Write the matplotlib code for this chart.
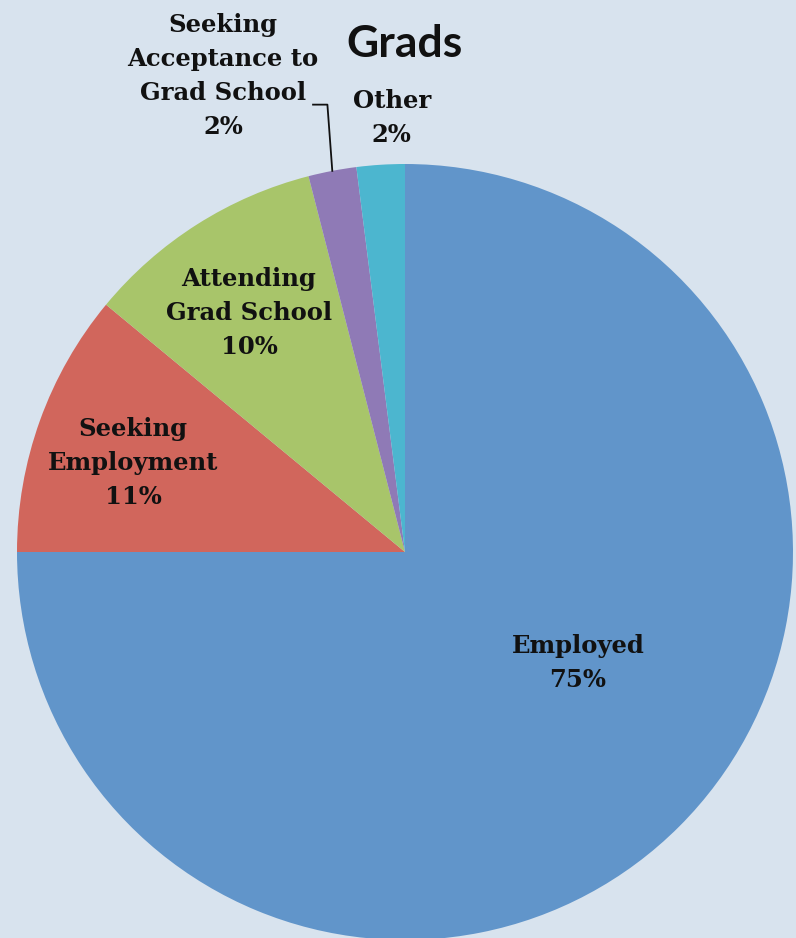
import numpy as np
import matplotlib
matplotlib.use('Agg')
import matplotlib.pyplot as plt

# Data
labels = ['Employed', 'Seeking\nEmployment', 'Attending\nGrad School',
          'Seeking\nAcceptance to\nGrad School', 'Other']
shares = [75, 11, 10, 2, 2]
colors = ['#6195CA', '#D1665C', '#A8C56A', '#8F7AB6', '#4CB6CF']
bg = '#D8E3EE'

fig = plt.figure(figsize=(7.96, 9.38), dpi=100, facecolor=bg)
# pie occupies a square: left 17px, width 776px, bottom at -2px
ax = fig.add_axes([17 / 796, -2 / 938, 776 / 796, 776 / 938])
ax.set_facecolor(bg)

wedges, _ = ax.pie(shares, colors=colors, startangle=90, counterclock=False,
                   radius=1.0, wedgeprops=dict(linewidth=0))
ax.set_xlim(-1, 1)
ax.set_ylim(-1, 1)
ax.set_aspect('equal')
ax.axis('off')

lbl_font = dict(family='DejaVu Serif', fontweight='bold', fontsize=17.5,
                ha='center', va='center', linespacing=1.52, color='#111111')

# label positions (data coords, radius = 1)
pos = [(0.446, -0.286), (-0.701, 0.229), (-0.402, 0.616),
       (-0.469, 1.227), (-0.034, 1.119)]
for lab, s, (x, y) in zip(labels, shares, pos):
    ax.text(x, y, '%s\n%d%%' % (lab, s), clip_on=False, **lbl_font)

# leader line for the small purple slice
w = wedges[3]
mid = np.deg2rad((w.theta1 + w.theta2) / 2)
ex, ey = np.cos(mid), np.sin(mid)
ax.plot([-0.237, -0.200, ex], [1.153, 1.153, ey], color='#111111',
        lw=1.3, clip_on=False)

fig.text(404 / 796, 1 - 44 / 938, 'Grads', family='Lato', fontweight='bold',
         fontsize=32, ha='center', va='center', color='#111111')

fig.savefig('out.png', dpi=100, facecolor=bg)
